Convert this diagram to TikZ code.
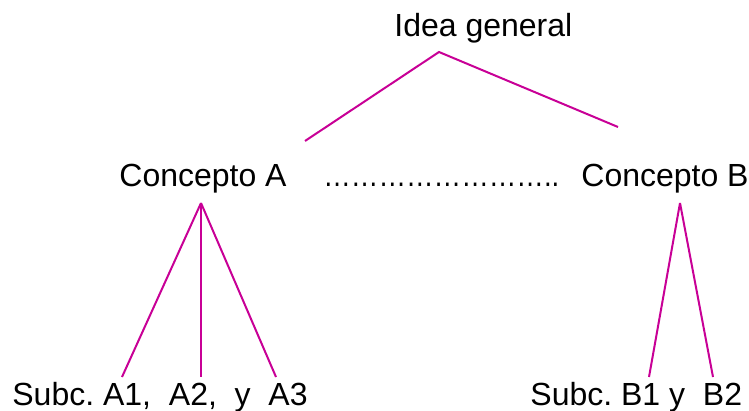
\documentclass[tikz,border=0pt]{standalone}
\usepackage{graphicx}
\usepackage{fontspec}
\setmainfont{Liberation Sans}
\frenchspacing
\begin{document}
\begin{tikzpicture}[x=0.5pt,y=-0.5pt]
	\tikzset{
		edge/.style={line width=1pt,color=magentaline},
		label/.style={anchor=base west,inner sep=0pt,font=\fontsize{16}{19}\selectfont}
	}
	\definecolor{magentaline}{RGB}{200,0,150}
	\useasboundingbox (0,0) rectangle (749,411);
	\path
	(439,52) coordinate (It)
	(305,141) coordinate (Il)
	(618,127) coordinate (Ir)
	(201,203) coordinate (At)
	(122,377) coordinate (A1)
	(201,377) coordinate (A2)
	(276,377) coordinate (A3)
	(680,203) coordinate (Bt)
	(649,377) coordinate (B1)
	(713,377) coordinate (B2);
	\node[label] (idea) at (394,37) {Idea general};
	\node[label] (ca) at (119,187) {Concepto A};
	\node[label] (dots) at (323,187) {\resizebox{118pt}{\height}{……………………..}};
	\node[label] (cb) at (581,187) {Concepto B};
	\node[label] (suba) at (12,405) {Subc. A1,\ \ A2,\ \ y\ \ A3};
	\node[label] (subb) at (530,405) {Subc. B1 y\ \ B2};
	\draw[edge] (Il) -- (It) -- (Ir);
	\foreach \p in {A1,A2,A3}{
		\draw[edge] (At) -- (\p);
	}
	\foreach \p in {B1,B2}{
		\draw[edge] (Bt) -- (\p);
	}
\end{tikzpicture}
\end{document}
